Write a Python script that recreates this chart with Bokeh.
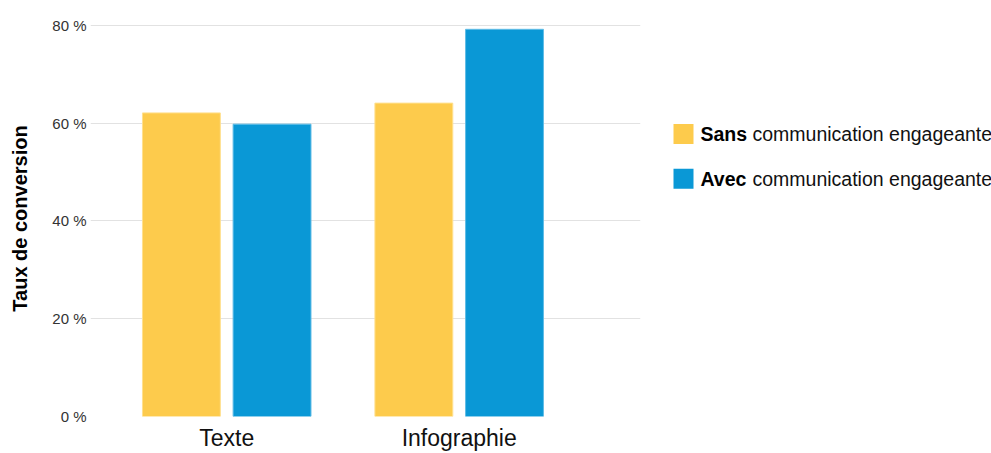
from bokeh.plotting import figure
from bokeh.models import ColumnDataSource, FixedTicker, Range1d, PrintfTickFormatter
from bokeh.transform import dodge
from bokeh.layouts import row
from bokeh.core.properties import value
from bokeh.embed import file_html
from bokeh.resources import INLINE

# ---- data ----
categories = ["Texte", "Infographie"]
sans = [62.1, 64.1]
avec = [59.8, 79.2]
y_ticks = [0, 20, 40, 60, 80]
series_bold = ["Sans", "Avec"]
series_rest = "communication engageante"
colors = ["#FDCB4C", "#0A98D6"]

FONT = "Liberation Sans"

x = list(range(len(categories)))
src = ColumnDataSource(dict(x=x, sans=sans, avec=avec))

p = figure(width=650, height=453,
           x_range=Range1d(-0.586, 1.780), y_range=Range1d(0, 81),
           output_backend="svg", toolbar_location=None,
           min_border_left=90, min_border_right=10,
           min_border_top=20, min_border_bottom=35)

p.vbar(x=dodge('x', -0.195), top='sans', width=0.335, source=src,
       fill_color=colors[0], line_color="#FFE08F", line_width=1)
p.vbar(x=dodge('x', 0.195), top='avec', width=0.335, source=src,
       fill_color=colors[1], line_color="#5FBCE6", line_width=1)

p.outline_line_color = None
p.xgrid.grid_line_color = None
p.ygrid.grid_line_color = "#e2e2e2"
p.ygrid.ticker = FixedTicker(ticks=y_ticks)

p.yaxis.ticker = FixedTicker(ticks=y_ticks)
p.yaxis.formatter = PrintfTickFormatter(format="%d %%")
p.yaxis.axis_line_color = None
p.yaxis.major_tick_line_color = None
p.yaxis.minor_tick_line_color = None
p.yaxis.major_tick_out = 0
p.yaxis.major_tick_in = 0
p.yaxis.major_label_text_font = FONT
p.yaxis.major_label_text_font_size = "15px"
p.yaxis.major_label_text_color = "#333333"
p.yaxis.major_label_standoff = 4
p.yaxis.axis_label = "Taux de conversion"
p.yaxis.axis_label_text_font = FONT
p.yaxis.axis_label_text_font_style = "bold"
p.yaxis.axis_label_text_font_size = "20px"
p.yaxis.axis_label_text_color = "#000000"
p.yaxis.axis_label_standoff = 18

p.xaxis.ticker = FixedTicker(ticks=x)
p.xaxis.major_label_overrides = {i: c for i, c in enumerate(categories)}
p.xaxis.axis_line_color = None
p.xaxis.major_tick_line_color = None
p.xaxis.minor_tick_line_color = None
p.xaxis.major_tick_out = 0
p.xaxis.major_tick_in = 0
p.xaxis.major_label_text_font = FONT
p.xaxis.major_label_text_font_size = "23px"
p.xaxis.major_label_text_color = "#111111"
p.xaxis.major_label_standoff = 8

# ---- legend panel (frame aligned with main plot frame: y 20..418) ----
q = figure(width=341, height=453, x_range=Range1d(0, 341), y_range=Range1d(418, 20),
           output_backend="svg", toolbar_location=None, min_border=0)
q.axis.visible = False
q.grid.visible = False
q.outline_line_color = None

ly = [134 + 45 * i for i in range(len(series_bold))]
lsrc = ColumnDataSource(dict(y=ly, color=colors, bold=series_bold,
                             rest=[series_rest] * len(series_bold)))
q.rect(x=33, y='y', width=20, height=20, fill_color='color', line_color=None, source=lsrc)
q.text(x=50, y='y', text='bold', source=lsrc, text_font=value(FONT),
       text_font_style="bold", text_font_size="19.5px", text_baseline="middle",
       text_color="#000000")
q.text(x=102, y='y', text='rest', source=lsrc, text_font=value(FONT),
       text_font_size="19.5px", text_baseline="middle", text_color="#111111")

layout = row(p, q)
open("out.html", "w").write(file_html(layout, INLINE))
